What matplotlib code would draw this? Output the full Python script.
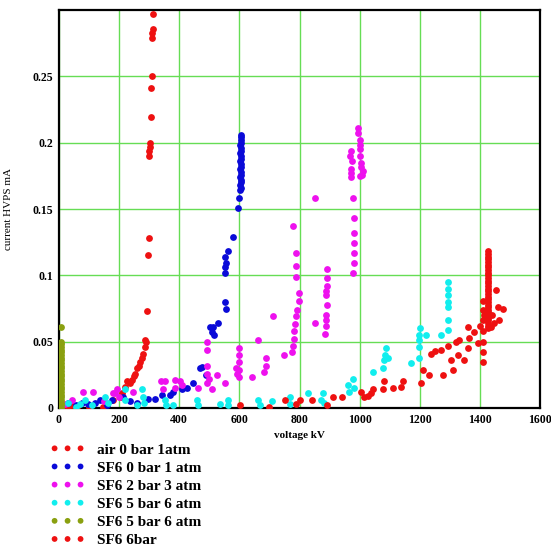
import matplotlib
matplotlib.use("Agg")
import matplotlib.pyplot as plt

# ---------------- data: (voltage kV, current mA) pairs ----------------
air_pts = [(5, 0.001), (15, 0.002), (30, 0.001), (43, 0.002), (60, 0.001), (100, 0.001),
           (147, 0.001), (180, 0.006), (203, 0.008), (210, 0.011), (220, 0.016), (227, 0.020),
           (235, 0.019), (243, 0.021), (250, 0.024), (253, 0.026), (260, 0.030), (265, 0.032),
           (270, 0.035), (275, 0.038), (280, 0.041), (285, 0.046), (287, 0.051), (290, 0.050),
           (293, 0.073), (296, 0.115), (298, 0.128), (300, 0.190), (300, 0.194), (302, 0.197),
           (303, 0.200), (305, 0.219), (305, 0.241), (308, 0.250), (310, 0.279), (310, 0.283),
           (312, 0.286), (313, 0.297)]

sf0_pts = [(10, 0.002), (30, 0.004), (55, 0.002), (75, 0.004), (97, 0.003), (120, 0.004),
           (137, 0.006), (160, 0.002), (177, 0.006), (213, 0.008), (237, 0.005), (260, 0.004),
           (297, 0.007), (320, 0.007), (343, 0.010), (370, 0.010), (380, 0.012), (410, 0.014),
           (427, 0.015), (447, 0.019), (470, 0.030), (477, 0.031), (490, 0.025), (503, 0.061),
           (510, 0.057), (513, 0.061), (517, 0.055), (530, 0.064), (553, 0.080), (556, 0.075),
           (553, 0.102), (553, 0.106), (555, 0.109), (553, 0.114), (563, 0.118), (580, 0.129),
           (597, 0.151), (600, 0.158),
           (603, 0.164), (604, 0.166), (603, 0.168), (605, 0.170), (604, 0.172), (603, 0.174),
           (605, 0.176), (604, 0.178), (603, 0.180), (604, 0.182), (605, 0.184), (603, 0.186),
           (604, 0.188), (605, 0.190), (603, 0.192), (604, 0.194), (605, 0.196), (603, 0.198),
           (604, 0.200), (605, 0.202), (606, 0.204), (605, 0.206)]

sf2_pts = [(20, 0.003), (43, 0.006), (80, 0.012), (113, 0.012), (150, 0.005), (180, 0.011),
           (187, 0.011), (193, 0.014), (200, 0.008), (247, 0.012), (340, 0.020), (347, 0.014),
           (353, 0.020), (387, 0.021), (387, 0.015), (403, 0.020), (410, 0.017), (463, 0.015),
           (493, 0.019), (493, 0.026), (493, 0.032), (493, 0.044), (493, 0.050), (500, 0.022),
           (510, 0.014), (527, 0.025), (553, 0.019), (590, 0.030), (593, 0.026), (600, 0.023),
           (600, 0.029), (600, 0.035), (600, 0.040), (600, 0.045), (643, 0.023), (663, 0.051),
           (683, 0.027), (687, 0.032), (690, 0.038), (713, 0.069), (747, 0.040), (775, 0.042),
           (780, 0.047), (783, 0.052), (783, 0.058), (785, 0.063), (790, 0.069), (793, 0.074),
           (797, 0.081), (797, 0.087), (787, 0.099), (787, 0.107), (787, 0.117), (780, 0.137),
           (853, 0.064), (853, 0.158), (885, 0.056), (887, 0.062), (887, 0.070), (890, 0.078),
           (888, 0.085), (890, 0.092), (890, 0.098), (890, 0.105), (887, 0.066), (889, 0.088),
           (977, 0.102), (980, 0.109), (980, 0.117), (980, 0.124), (980, 0.132), (980, 0.143),
           (977, 0.158), (970, 0.174), (970, 0.180), (972, 0.177), (975, 0.186), (970, 0.194),
           (968, 0.190), (1000, 0.175), (1010, 0.179), (1005, 0.185), (1000, 0.190),
           (1003, 0.182), (1000, 0.195), (1000, 0.202), (995, 0.207), (993, 0.211),
           (1008, 0.176), (1002, 0.198)]

sf5_pts = [(5, 0.002), (30, 0.004), (55, 0.001), (70, 0.003), (87, 0.006), (110, 0.002),
           (153, 0.008), (163, 0.004), (220, 0.006), (220, 0.014), (260, 0.002), (277, 0.014),
           (280, 0.008), (283, 0.004), (353, 0.006), (357, 0.002), (380, 0.002), (460, 0.006),
           (463, 0.002), (537, 0.003), (563, 0.006), (563, 0.002), (663, 0.006), (667, 0.002),
           (710, 0.005), (770, 0.008), (770, 0.003), (827, 0.011), (870, 0.006), (877, 0.011),
           (880, 0.004), (960, 0.017), (977, 0.022), (980, 0.015), (963, 0.012), (1043, 0.027),
           (1077, 0.030), (1080, 0.036), (1083, 0.040), (1087, 0.045), (1093, 0.038),
           (1170, 0.034), (1197, 0.038), (1197, 0.046), (1197, 0.051), (1197, 0.055),
           (1200, 0.060), (1220, 0.055), (1270, 0.055), (1293, 0.059), (1293, 0.066),
           (1293, 0.076), (1293, 0.080), (1293, 0.085), (1293, 0.090), (1293, 0.095)]

sf5b_pts = [(6, 0.061), (6, 0.000), (6, 0.002), (6, 0.004), (6, 0.006), (6, 0.008), (6, 0.010),
            (6, 0.012), (6, 0.014), (6, 0.016), (6, 0.018), (6, 0.020), (6, 0.022), (6, 0.024),
            (6, 0.026), (6, 0.028), (6, 0.030), (6, 0.032), (6, 0.034), (6, 0.036), (6, 0.038),
            (6, 0.040), (6, 0.042), (6, 0.044), (6, 0.046), (6, 0.048), (6, 0.050)]

sf6_pts = [(603, 0.002), (697, 0.001), (753, 0.006), (787, 0.003), (803, 0.006), (843, 0.006),
           (893, 0.002), (910, 0.008), (943, 0.008), (1003, 0.012), (1014, 0.008), (1027, 0.009),
           (1037, 0.011), (1045, 0.014), (1077, 0.014), (1080, 0.020), (1110, 0.015),
           (1137, 0.016), (1143, 0.020), (1203, 0.019), (1210, 0.029), (1230, 0.025),
           (1237, 0.041), (1250, 0.043), (1270, 0.044), (1277, 0.025), (1293, 0.047),
           (1303, 0.036), (1310, 0.029), (1320, 0.050), (1327, 0.040), (1330, 0.051),
           (1347, 0.036), (1360, 0.045), (1360, 0.061), (1363, 0.053), (1380, 0.057),
           (1393, 0.049), (1400, 0.062), (1410, 0.042), (1410, 0.035), (1410, 0.050),
           (1410, 0.058), (1410, 0.066), (1410, 0.074), (1410, 0.081), (1415, 0.070),
           (1420, 0.069),
           (1427, 0.060), (1427, 0.062), (1427, 0.064), (1427, 0.066), (1427, 0.068),
           (1427, 0.070), (1427, 0.072), (1427, 0.074), (1427, 0.076), (1427, 0.078),
           (1427, 0.080), (1427, 0.082), (1427, 0.084), (1427, 0.086), (1427, 0.088),
           (1427, 0.090), (1427, 0.092), (1427, 0.094), (1427, 0.096), (1427, 0.098),
           (1427, 0.100), (1427, 0.102), (1427, 0.104), (1427, 0.106), (1427, 0.108),
           (1427, 0.110), (1427, 0.112), (1427, 0.114), (1427, 0.116), (1427, 0.118),
           (1437, 0.061), (1453, 0.089), (1460, 0.076), (1463, 0.066), (1477, 0.075),
           (1440, 0.070), (1448, 0.064)]

labels = ["air 0 bar 1atm", "SF6 0 bar 1 atm", "SF6 2 bar 3 atm", "SF6 5 bar 6 atm",
          "SF6 5 bar 6 atm", "SF6 6bar"]
colors = ["#ee1111", "#0a0ad8", "#ee11ee", "#11eeee", "#8aa010", "#ee1111"]

xticks = [0, 200, 400, 600, 800, 1000, 1200, 1400, 1600]
yticks = [0, 0.05, 0.1, 0.15, 0.2, 0.25]
ytick_labels = ["0", "0.05", "0.1", "0.15", "0.2", "0.25"]

# ---------------- figure ----------------
serif = ["Liberation Serif", "DejaVu Serif"]
fig = plt.figure(figsize=(5.51, 5.44), dpi=100)
ax = fig.add_axes([59 / 551, 1 - 408 / 544, 481 / 551, 398 / 544])

series = [air_pts, sf0_pts, sf2_pts, sf5_pts, sf5b_pts, sf6_pts]
for pts, lab, col in zip(series, labels, colors):
    xs = [p[0] for p in pts]
    ys = [p[1] for p in pts]
    ax.scatter(xs, ys, s=24, color=col, label=lab, linewidths=0, zorder=3, clip_on=True)

ax.set_xlim(0, 1600)
ax.set_ylim(0, 0.3)
ax.set_xticks(xticks)
ax.set_xticklabels([str(t) for t in xticks])
ax.set_yticks(yticks)
ax.set_yticklabels(ytick_labels)
ax.tick_params(length=0, pad=4)
for lab in ax.get_xticklabels() + ax.get_yticklabels():
    lab.set_fontfamily(serif)
    lab.set_fontweight("bold")
    lab.set_fontsize(8.5)

ax.grid(True, color="#66dd55", linewidth=1.0, zorder=0)
ax.set_axisbelow(True)
for sp in ax.spines.values():
    sp.set_linewidth(1.6)
    sp.set_color("black")

ax.set_xlabel("voltage kV", fontfamily=serif, fontweight="bold", fontsize=8, labelpad=4)
ax.set_ylabel("current HVPS mA", fontfamily=serif, fontsize=8, labelpad=14)

leg = fig.legend(loc="upper left", bbox_to_anchor=(50 / 551, 1 - 443 / 544),
                 scatterpoints=3, scatteryoffsets=[0.5], frameon=False,
                 prop={"family": serif, "weight": "bold", "size": 11},
                 handlelength=2.3, handletextpad=0.8, labelspacing=0.29,
                 borderaxespad=0, borderpad=0, markerscale=0.85)

fig.savefig("out.png", dpi=100)
